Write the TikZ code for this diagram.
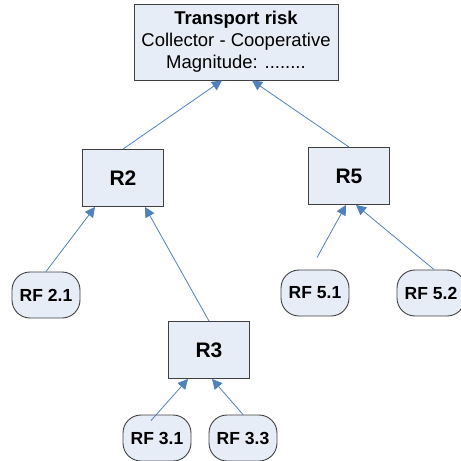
\documentclass[tikz,border=0pt]{standalone}
\usepackage{fontspec}
\setmainfont{Liberation Sans}
\usetikzlibrary{arrows.meta}
\definecolor{boxfill}{HTML}{E7EDF7}
\definecolor{boxline}{HTML}{404040}
\definecolor{linkblue}{HTML}{4F81BD}
\begin{document}
\begin{tikzpicture}
            [x=1pt,y=-1pt,
            risk/.style ={draw=boxline,fill=boxfill,line width=0.9pt,minimum width=81pt,minimum height=57pt,font=\fontsize{21}{24}\selectfont\bfseries},
            factor/.style ={draw=boxline,fill=boxfill,line width=0.9pt,rounded corners=18pt,minimum width=68pt,minimum height=46pt,inner sep=1pt,font=\fontsize{17.5}{20}\selectfont\bfseries},
            link/.style ={draw=linkblue,line width=0.8pt,-{Triangle[length=10pt,width=10pt]}}]
            \useasboundingbox (0,0) rectangle (461,461);
            \node[risk][minimum width=204pt,minimum height=76pt,align=center,font=\fontsize{18.5}{22}\selectfont] (top) at (236,42){\textbf{Transport risk}\\Collector - Cooperative\\Magnitude: ........};
            \node[risk] (r2) at (123,178){R2};
            \node[risk] (r5) at (349,176){R5};
            \node[risk] (r3) at (209,350){R3};
            \node[factor] (rf21) at (46,295){RF 2.1};
            \node[factor] (rf51) at (315,293){RF 5.1};
            \node[factor] (rf52) at (431,293){RF 5.2};
            \node[factor] (rf31) at (157,438){RF 3.1};
            \node[factor] (rf33) at (243,438){RF 3.3};
            \draw[link] (r2.north) to ([xshift=-14pt]top.south);
            \draw[link] (r5.north) to ([xshift=16pt]top.south);
            \draw[link] (rf21.north) to ([xshift=-28pt]r2.south);
            \draw[link] (r3.north) to ([xshift=22pt]r2.south);
            \draw[link] ([xshift=2pt,yshift=12pt]rf51.north) to ([xshift=-3pt]r5.south);
            \draw[link] ([xshift=3pt]rf52.north) to ([xshift=7pt]r5.south);
            \draw[link] ([xshift=-6pt,yshift=-6pt]rf31.north) to ([xshift=-21pt]r3.south);
            \draw[link] (rf33.north) to ([xshift=3pt]r3.south);
        \end{tikzpicture}
\end{document}
